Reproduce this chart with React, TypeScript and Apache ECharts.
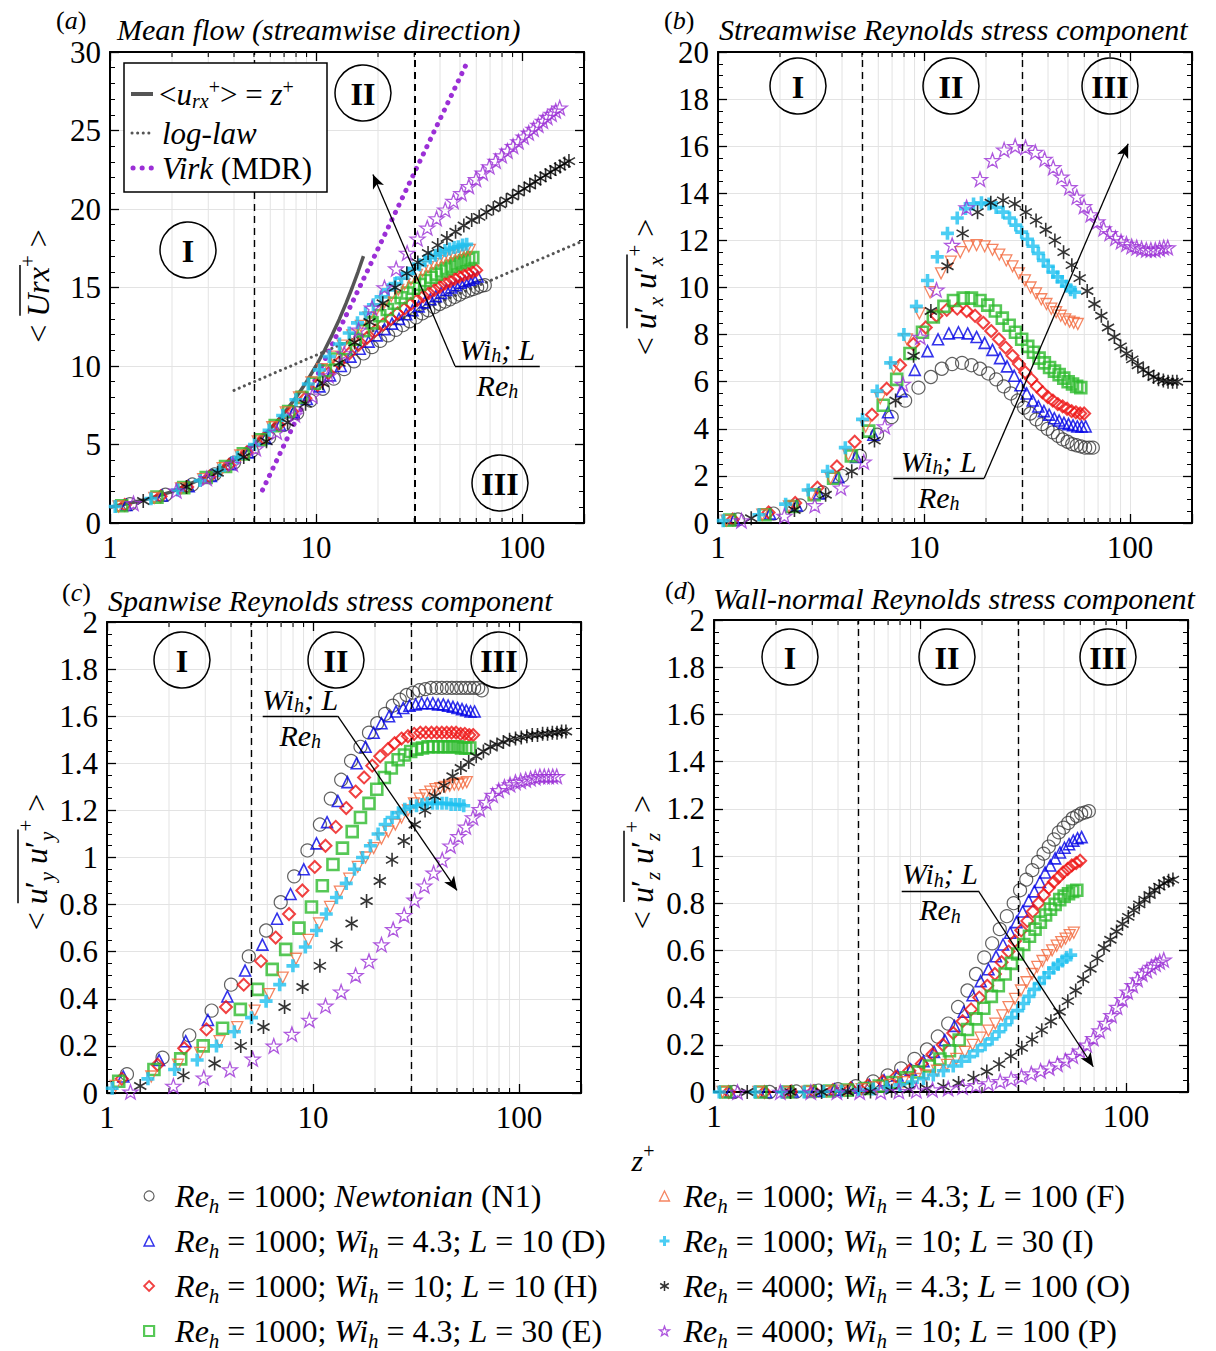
import React, { useEffect, useRef } from 'react';
import * as echarts from 'echarts';

const FONT = '"Liberation Serif", "Times New Roman", Times, serif';

// ---------- wall-normal grids (z+) of each case ----------
const N1_Z = [1.25,1.86,2.51,3.22,4.0,4.88,5.92,6.97,8.1,9.4,10.8,12.2,13.7,15.3,17.0,18.7,20.5,22.4,24.4,26.4,28.5,30.6,32.8,35.1,37.4,39.8,42.2,44.7,47.2,49.8,52.4,55.1,57.8,60.6,63.4,66.0];
const D_Z = [1.2,1.79,2.41,3.09,3.84,4.68,5.68,6.69,7.78,9.02,10.4,11.7,13.2,14.7,16.3,18.0,19.7,21.5,23.4,25.3,27.4,29.4,31.5,33.7,35.9,38.2,40.5,42.9,45.3,47.8,50.3,52.9,55.5,58.2,60.9];
const H_Z = [1.18,1.76,2.37,3.04,3.78,4.61,5.59,6.59,7.65,8.88,10.2,11.5,12.9,14.5,16.1,17.7,19.4,21.2,23.1,24.9,26.9,28.9,31.0,33.2,35.3,37.6,39.9,42.2,44.6,47.1,49.5,52.1,54.6,57.3,59.9];
const E_Z = [1.14,1.69,2.28,2.93,3.64,4.44,5.39,6.34,7.37,8.55,9.83,11.1,12.5,13.9,15.5,17.0,18.7,20.4,22.2,24.0,25.9,27.8,29.8,31.9,34.0,36.2,38.4,40.7,43.0,45.3,47.7,50.1,52.6,55.1,57.7];
const F_Z = [1.1,1.64,2.21,2.83,3.52,4.29,5.21,6.13,7.13,8.27,9.5,10.7,12.1,13.5,15.0,16.5,18.0,19.7,21.5,23.2,25.1,26.9,28.9,30.9,32.9,35.0,37.1,39.3,41.5,43.8,46.1,48.5,50.9,53.3,55.8];
const I_Z = [1.06,1.58,2.13,2.74,3.4,4.15,5.03,5.92,6.89,7.99,9.18,10.4,11.6,13.0,14.5,15.9,17.4,19.0,20.7,22.4,24.2,26.0,27.9,29.8,31.8,33.8,35.9,38.0,40.1,42.3,44.5,46.8,49.1,51.5,53.9];
const O_Z = [1.45,2.35,3.33,4.46,5.75,7.28,8.9,10.8,13.0,15.4,18.2,21.1,24.2,27.6,31.2,35.0,39.0,43.2,47.6,52.2,57.0,62.0,67.2,72.6,78.2,84.0,90.0,96.2,102.6,109.2,116.0,123.0,130.2,137.6,145.2,153.0,161.0,169.0];
const P_Z = [1.3,2.1,2.95,3.95,5.1,6.45,7.9,9.6,11.5,13.7,16.1,18.7,21.5,24.5,27.7,31.1,34.7,38.5,42.4,46.5,50.8,55.2,59.8,64.5,69.4,74.5,79.7,85.0,90.5,96.1,101.9,107.8,113.8,120.0,126.3,132.7,139.2,145.8,152.5];

// ---------- (a) mean streamwise velocity <Urx+> ----------
const N1_U = [1.2,1.8,2.45,3.1,3.85,4.6,5.45,6.25,7.0,7.8,8.55,9.2,9.8,10.3,10.8,11.2,11.6,11.95,12.3,12.6,12.85,13.1,13.35,13.55,13.75,13.95,14.1,14.25,14.4,14.55,14.7,14.8,14.9,15.0,15.1,15.15];
const D_U = [1.15,1.75,2.35,3.0,3.75,4.5,5.4,6.25,7.05,7.9,8.7,9.4,10.0,10.6,11.1,11.55,11.95,12.35,12.7,13.0,13.3,13.55,13.8,14.05,14.25,14.45,14.65,14.85,15.0,15.15,15.3,15.4,15.5,15.6,15.7];
const H_U = [1.15,1.7,2.3,2.95,3.7,4.5,5.4,6.25,7.1,7.95,8.8,9.55,10.2,10.8,11.35,11.8,12.25,12.65,13.0,13.35,13.65,13.95,14.2,14.45,14.65,14.85,15.05,15.25,15.4,15.55,15.7,15.8,15.9,16.0,16.1];
const E_U = [1.1,1.65,2.25,2.9,3.6,4.4,5.3,6.2,7.1,8.0,8.9,9.7,10.45,11.1,11.7,12.25,12.75,13.2,13.6,14.0,14.35,14.65,14.95,15.2,15.45,15.65,15.85,16.05,16.2,16.35,16.5,16.6,16.7,16.8,16.9];
const F_U = [1.05,1.6,2.2,2.8,3.5,4.3,5.2,6.1,7.05,8.0,8.95,9.8,10.6,11.3,11.95,12.55,13.1,13.6,14.05,14.45,14.85,15.2,15.5,15.8,16.05,16.3,16.5,16.7,16.85,17.0,17.1,17.2,17.3,17.35,17.4];
const I_U = [1.05,1.55,2.1,2.7,3.35,4.15,5.0,5.9,6.85,7.85,8.85,9.75,10.6,11.4,12.1,12.75,13.35,13.9,14.4,14.85,15.25,15.6,15.9,16.2,16.45,16.7,16.9,17.05,17.2,17.35,17.45,17.55,17.6,17.7,17.75];
const O_U = [1.4,2.3,3.2,4.2,5.2,6.4,7.6,8.9,10.2,11.5,12.8,14.0,15.0,15.9,16.6,17.2,17.7,18.15,18.55,18.95,19.3,19.5,19.8,20.05,20.3,20.55,20.8,21.05,21.3,21.5,21.75,21.95,22.15,22.35,22.55,22.7,22.9,23.05];
const P_U = [1.25,2.05,2.85,3.75,4.75,5.8,6.9,8.1,9.4,10.8,12.3,13.7,15.0,16.2,17.2,18.1,18.8,19.4,19.95,20.5,21.0,21.45,21.9,22.3,22.7,23.05,23.4,23.7,24.0,24.3,24.6,24.85,25.1,25.35,25.6,25.85,26.05,26.25,26.45];

// ---------- (b) streamwise Reynolds stress ----------
const N1_XX = [0.15,0.4,0.75,1.3,2.0,2.85,3.75,4.5,5.2,5.75,6.2,6.55,6.75,6.8,6.7,6.55,6.35,6.1,5.8,5.5,5.2,4.9,4.65,4.4,4.2,4.0,3.85,3.7,3.55,3.45,3.35,3.3,3.25,3.2,3.2,3.2];
const D_XX = [0.15,0.4,0.75,1.25,1.95,2.8,3.75,4.7,5.6,6.5,7.3,7.8,8.05,8.1,8.05,7.9,7.65,7.35,7.0,6.65,6.25,5.85,5.5,5.2,4.95,4.75,4.6,4.45,4.35,4.25,4.2,4.15,4.1,4.1,4.1];
const H_XX = [0.15,0.45,0.85,1.5,2.4,3.45,4.6,5.7,6.7,7.6,8.3,8.8,9.05,9.1,9.0,8.8,8.5,8.15,7.8,7.45,7.1,6.75,6.4,6.1,5.8,5.55,5.35,5.2,5.05,4.95,4.85,4.75,4.7,4.65,4.65];
const E_XX = [0.12,0.35,0.7,1.2,1.9,2.85,3.9,5.0,6.1,7.2,8.1,8.75,9.2,9.45,9.55,9.55,9.45,9.25,9.0,8.7,8.4,8.1,7.8,7.5,7.25,7.0,6.8,6.6,6.45,6.3,6.15,6.0,5.9,5.8,5.75];
const F_XX = [0.1,0.35,0.7,1.2,1.9,2.9,4.1,5.3,6.6,7.8,8.9,9.8,10.6,11.1,11.5,11.75,11.8,11.75,11.6,11.4,11.15,10.9,10.6,10.3,10.0,9.75,9.5,9.3,9.1,8.95,8.8,8.65,8.55,8.5,8.45];
const I_XX = [0.1,0.35,0.8,1.4,2.2,3.2,4.4,5.6,6.8,8.0,9.2,10.3,11.3,12.3,12.95,13.35,13.55,13.6,13.55,13.4,13.2,12.95,12.65,12.35,12.05,11.75,11.45,11.15,10.9,10.65,10.45,10.25,10.05,9.9,9.8];
const O_XX = [0.2,0.55,1.2,2.2,3.5,5.2,7.1,9.0,10.9,12.3,13.2,13.6,13.7,13.55,13.2,12.85,12.45,12.0,11.5,10.95,10.4,9.85,9.3,8.8,8.3,7.9,7.5,7.2,6.95,6.7,6.5,6.35,6.2,6.1,6.05,6.0,6.0,6.0];
const P_XX = [0.1,0.3,0.75,1.5,2.6,4.1,5.9,7.9,9.9,11.8,13.4,14.6,15.4,15.85,16.0,15.95,15.75,15.45,15.1,14.7,14.25,13.85,13.45,13.1,12.8,12.5,12.3,12.1,11.95,11.85,11.75,11.7,11.65,11.6,11.6,11.6,11.65,11.7,11.7];

// ---------- (c) spanwise Reynolds stress ----------
const N1_YY = [0.08,0.15,0.245,0.35,0.46,0.58,0.69,0.81,0.92,1.03,1.14,1.25,1.33,1.41,1.47,1.53,1.57,1.61,1.645,1.67,1.69,1.70,1.71,1.715,1.72,1.72,1.72,1.72,1.72,1.72,1.72,1.72,1.72,1.72,1.72,1.71];
const D_YY = [0.07,0.14,0.22,0.31,0.41,0.52,0.63,0.74,0.845,0.95,1.06,1.15,1.24,1.32,1.4,1.47,1.53,1.57,1.6,1.62,1.635,1.645,1.65,1.655,1.655,1.655,1.65,1.65,1.645,1.64,1.635,1.63,1.625,1.62,1.62];
const H_YY = [0.06,0.12,0.19,0.27,0.365,0.46,0.56,0.66,0.76,0.86,0.96,1.05,1.13,1.21,1.28,1.34,1.39,1.43,1.46,1.485,1.505,1.515,1.525,1.53,1.53,1.53,1.53,1.53,1.53,1.53,1.53,1.525,1.525,1.52,1.52];
const E_YY = [0.05,0.1,0.145,0.2,0.275,0.355,0.44,0.525,0.61,0.7,0.79,0.88,0.97,1.04,1.11,1.17,1.23,1.29,1.34,1.38,1.415,1.435,1.45,1.46,1.465,1.47,1.47,1.47,1.47,1.47,1.47,1.47,1.465,1.465,1.465];
const F_YY = [0.03,0.07,0.12,0.17,0.22,0.28,0.35,0.42,0.49,0.57,0.65,0.72,0.79,0.855,0.91,0.96,1.0,1.04,1.08,1.11,1.14,1.17,1.2,1.23,1.25,1.265,1.28,1.29,1.295,1.3,1.305,1.31,1.31,1.315,1.32];
const I_YY = [0.02,0.06,0.1,0.14,0.2,0.26,0.32,0.39,0.46,0.54,0.62,0.69,0.76,0.83,0.89,0.95,1.0,1.05,1.1,1.14,1.17,1.19,1.205,1.215,1.22,1.225,1.23,1.23,1.23,1.23,1.23,1.225,1.225,1.225,1.22];
const O_YY = [0.03,0.075,0.125,0.2,0.28,0.365,0.45,0.54,0.63,0.72,0.815,0.9,0.99,1.07,1.14,1.2,1.26,1.305,1.345,1.38,1.405,1.43,1.45,1.47,1.48,1.49,1.5,1.505,1.51,1.515,1.52,1.52,1.525,1.525,1.53,1.53,1.535,1.535];
const P_YY = [0.005,0.03,0.065,0.1,0.145,0.2,0.25,0.31,0.37,0.43,0.5,0.56,0.63,0.695,0.755,0.82,0.88,0.935,0.99,1.05,1.09,1.13,1.17,1.205,1.235,1.265,1.285,1.3,1.31,1.32,1.325,1.33,1.335,1.34,1.345,1.345,1.345,1.345,1.345];

// ---------- (d) wall-normal Reynolds stress ----------
const N1_ZZ = [0,0,0.002,0.006,0.012,0.025,0.045,0.07,0.1,0.14,0.18,0.235,0.29,0.36,0.43,0.5,0.57,0.63,0.69,0.745,0.8,0.855,0.9,0.94,0.975,1.01,1.04,1.07,1.1,1.12,1.14,1.16,1.17,1.18,1.185,1.19];
const D_ZZ = [0,0,0.002,0.005,0.01,0.018,0.03,0.05,0.07,0.095,0.13,0.17,0.22,0.28,0.34,0.41,0.47,0.52,0.575,0.625,0.675,0.72,0.765,0.81,0.85,0.89,0.93,0.96,0.99,1.015,1.035,1.05,1.065,1.075,1.08];
const H_ZZ = [0,0,0.002,0.004,0.008,0.015,0.028,0.045,0.065,0.09,0.12,0.16,0.2,0.25,0.3,0.35,0.4,0.45,0.5,0.55,0.595,0.64,0.685,0.725,0.765,0.8,0.835,0.865,0.89,0.91,0.93,0.945,0.96,0.97,0.98];
const E_ZZ = [0,0,0,0.002,0.004,0.008,0.015,0.025,0.04,0.06,0.085,0.11,0.14,0.175,0.22,0.265,0.31,0.355,0.405,0.45,0.5,0.545,0.585,0.625,0.66,0.69,0.72,0.75,0.775,0.795,0.815,0.83,0.84,0.85,0.855];
const F_ZZ = [0,0,0,0.001,0.003,0.006,0.012,0.02,0.03,0.042,0.055,0.07,0.09,0.115,0.14,0.17,0.2,0.23,0.26,0.29,0.325,0.36,0.395,0.43,0.465,0.5,0.53,0.555,0.58,0.6,0.62,0.635,0.65,0.665,0.675];
const I_ZZ = [0,0,0,0,0.002,0.004,0.008,0.013,0.02,0.03,0.042,0.056,0.072,0.09,0.11,0.13,0.15,0.175,0.2,0.225,0.255,0.285,0.315,0.345,0.375,0.405,0.435,0.46,0.485,0.505,0.525,0.54,0.555,0.57,0.58];
const O_ZZ = [0,0,0,0,0.002,0.005,0.01,0.015,0.024,0.038,0.06,0.087,0.118,0.152,0.187,0.222,0.262,0.3,0.34,0.385,0.43,0.478,0.522,0.566,0.61,0.645,0.68,0.712,0.742,0.77,0.795,0.815,0.835,0.855,0.87,0.885,0.895,0.9];
const P_ZZ = [0,0,0,0,0,0.001,0.003,0.006,0.01,0.015,0.021,0.028,0.036,0.045,0.055,0.066,0.078,0.09,0.103,0.118,0.133,0.152,0.175,0.2,0.228,0.26,0.292,0.325,0.36,0.393,0.425,0.452,0.477,0.5,0.515,0.53,0.542,0.552,0.56];

// ---------- reference laws in panel (a) ----------
const VISC_Z = [1,1.5,2,3,4,5,6,7,8,9,10,11,12,13,14,15,16,17];
const VISC_U = [1,1.5,2,3,4,5,6,7,8,9,10,11,12,13,14,15,16,17];
const LOG_Z = [4, 200];
const LOG_U = [8.45, 18.0];
const VIRK_Z = [5.5, 54];
const VIRK_U = [2.1, 29.3];

// ---------- cases / legend ----------
const CASE_NAMES = ['N1', 'D', 'H', 'E', 'F', 'I', 'O', 'P'];
const CASE_RE = ['1000', '1000', '1000', '1000', '1000', '1000', '4000', '4000'];
const CASE_WI = ['', '4.3', '10', '4.3', '4.3', '10', '4.3', '10'];
const CASE_L = ['', '10', '10', '30', '100', '30', '100', '100'];
const CASE_Z = [N1_Z, D_Z, H_Z, E_Z, F_Z, I_Z, O_Z, P_Z];
const CASE_VALUES = [
  [N1_U, N1_XX, N1_YY, N1_ZZ],
  [D_U, D_XX, D_YY, D_ZZ],
  [H_U, H_XX, H_YY, H_ZZ],
  [E_U, E_XX, E_YY, E_ZZ],
  [F_U, F_XX, F_YY, F_ZZ],
  [I_U, I_XX, I_YY, I_ZZ],
  [O_U, O_XX, O_YY, O_ZZ],
  [P_U, P_XX, P_YY, P_ZZ],
];

// ---------- panels ----------
const PANEL_TAGS = ['a', 'b', 'c', 'd'];
const PANEL_TITLES = [
  'Mean flow (streamwise direction)',
  'Streamwise Reynolds stress component',
  'Spanwise Reynolds stress component',
  'Wall-normal Reynolds stress component',
];
const Y_MAX = [30, 20, 2, 2];
const Y_INTERVAL = [5, 2, 0.2, 0.2];
const Y_MINOR = [5, 4, 4, 4];
const X_MIN = 1;
const X_MAX = 200;
const X_MINOR = [2, 3, 4, 5, 6, 7, 8, 9, 20, 30, 40, 50, 60, 70, 80, 90];
const REGION_BOUNDS = [5, 30];
const ROMAN = ['I', 'II', 'III'];

// annotation "Wi_h; L / Re_h" and arrows (data coordinates)
const ANN_CORNER_X = [47.3, 19.6, 13.2, 19.2];
const ANN_CORNER_Y = [10, 1.9, 1.6, 0.852];
const ANN_END_X = [122, 7.1, 5.7, 8.15];
const ARROW_HEAD_X = [18.9, 98, 50, 69.4];
const ARROW_HEAD_Y = [22.2, 16.1, 0.86, 0.107];

// ---------- layout (pixels) ----------
const GRIDS = [
  { left: 110, top: 52, width: 474, height: 471 },
  { left: 718, top: 52, width: 474, height: 471 },
  { left: 107, top: 622, width: 474, height: 471 },
  { left: 714, top: 620, width: 474, height: 472 },
];
const TITLE_POS = [[117, 29], [719, 29], [108, 600], [713, 598]];
const TAG_POS = [[56, 20], [664, 20], [62, 592], [665, 590]];
const REGION_POS = [
  [[188, 250], [363, 93], [500, 483]],
  [[798, 86], [951, 86], [1110, 86]],
  [[182, 660], [336, 660], [499, 660]],
  [[790, 657], [947, 657], [1108, 657]],
];

const STAR = 'path://M0,-1L0.235,-0.324L0.951,-0.309L0.38,0.124L0.588,0.809L0,0.4L-0.588,0.809L-0.38,0.124L-0.951,-0.309L-0.235,-0.324Z';
const ASTER = 'path://M0,-1L0,1M-0.866,-0.5L0.866,0.5M-0.866,0.5L0.866,-0.5';
const PLUS = 'path://M-1,0L1,0M0,-1L0,1';

const STYLE = [
  { color: '#3a3a3a', symbol: 'circle', size: 13, bw: 1.2, rot: 0 },
  { color: '#0000e6', symbol: 'triangle', size: 11, bw: 1.6, rot: 0 },
  { color: '#ee1111', symbol: 'diamond', size: 12, bw: 2, rot: 0 },
  { color: '#2dba2d', symbol: 'rect', size: 11, bw: 2.6, rot: 0 },
  { color: '#f2673a', symbol: 'triangle', size: 11, bw: 1.3, rot: 180 },
  { color: '#1ec0f0', symbol: PLUS, size: 13, bw: 3.6, rot: 0 },
  { color: '#000000', symbol: ASTER, size: 14, bw: 1.6, rot: 0 },
  { color: '#9b2fd6', symbol: STAR, size: 15, bw: 1.3, rot: 0 },
];
const LEGEND_BW = [1.2, 1.5, 1.8, 2.2, 1.3, 3, 1.5, 1.3];

const rich = (size: number, lh?: number) => {
  const L = lh ?? Math.round(size * 1.3);
  const sub = Math.round(size * 0.66);
  const base = { fontFamily: FONT, color: '#000' };
  return {
    n: { ...base, fontSize: size, lineHeight: L },
    i: { ...base, fontSize: size, fontStyle: 'italic', lineHeight: L },
    b: { ...base, fontSize: size, fontWeight: 'bold', lineHeight: L },
    s: { ...base, fontSize: sub, fontStyle: 'italic', lineHeight: sub, verticalAlign: 'bottom' },
    p: { ...base, fontSize: sub, lineHeight: Math.round(L * 0.85), verticalAlign: 'top' },
  };
};

const legendText = (k: number) => {
  const head = `{i|Re}{s|h}{n| = ${CASE_RE[k]}; }`;
  if (!CASE_WI[k]) return `${head}{i|Newtonian}{n| (${CASE_NAMES[k]})}`;
  return `${head}{i|Wi}{s|h}{n| = ${CASE_WI[k]}; }{i|L}{n| = ${CASE_L[k]} (${CASE_NAMES[k]})}`;
};

const fmtLog = (v: number) => {
  const l = Math.log10(v);
  return Math.abs(l - Math.round(l)) < 1e-6 ? String(Math.round(Math.pow(10, Math.round(l)))) : '';
};

let measureCtx: CanvasRenderingContext2D | null = null;
const textWidth = (t: string, size: number, italic: boolean) => {
  if (!measureCtx) measureCtx = document.createElement('canvas').getContext('2d');
  measureCtx!.font = `${italic ? 'italic' : 'normal'} normal ${size}px ${FONT}`;
  return measureCtx!.measureText(t).width;
};

function buildOption() {
  const grid: any[] = [];
  const xAxis: any[] = [];
  const yAxis: any[] = [];
  const series: any[] = [];
  const axisLine = { show: true, onZero: false, lineStyle: { color: '#000', width: 2 } };
  const tick = { show: true, inside: true, length: 9, lineStyle: { color: '#000', width: 1.3 } };
  const splitLine = { show: true, lineStyle: { color: '#e3e3e3', width: 1 } };
  const label = { fontFamily: FONT, fontSize: 31, color: '#000', margin: 9 };

  GRIDS.forEach((gr, g) => {
    grid.push({ ...gr, show: false, containLabel: false });
    const xBase = { type: 'log', logBase: 10, min: X_MIN, max: X_MAX, gridIndex: g, axisLine, axisTick: tick };
    xAxis.push({ ...xBase, position: 'bottom', axisLabel: { ...label, formatter: fmtLog }, splitLine });
    xAxis.push({ ...xBase, position: 'top', axisLabel: { show: false }, splitLine: { show: false } });
    const yBase = {
      type: 'value', min: 0, max: Y_MAX[g], interval: Y_INTERVAL[g], gridIndex: g, axisLine, axisTick: tick,
      minorTick: { show: true, splitNumber: Y_MINOR[g], length: 5, lineStyle: { color: '#000', width: 1 } },
    };
    yAxis.push({ ...yBase, position: 'left', axisLabel: label, splitLine });
    yAxis.push({ ...yBase, position: 'right', axisLabel: { show: false }, splitLine: { show: false } });

    const ymax = Y_MAX[g];
    series.push({
      type: 'custom', name: 'minor-' + g, xAxisIndex: 2 * g, yAxisIndex: 2 * g, silent: true, z: 1,
      data: X_MINOR.map((v) => [v, 0]),
      renderItem: (_p: any, api: any) => {
        const x = api.value(0);
        const b = api.coord([x, 0]);
        const t = api.coord([x, ymax]);
        return {
          type: 'group',
          children: [
            { type: 'line', shape: { x1: b[0], y1: b[1], x2: t[0], y2: t[1] }, style: { stroke: '#e3e3e3', lineWidth: 1 } },
            { type: 'line', shape: { x1: b[0], y1: b[1], x2: b[0], y2: b[1] - 5 }, style: { stroke: '#000', lineWidth: 1.1 } },
            { type: 'line', shape: { x1: t[0], y1: t[1], x2: t[0], y2: t[1] + 5 }, style: { stroke: '#000', lineWidth: 1.1 } },
          ],
        };
      },
    });

    if (g === 0) {
      series.push({
        type: 'line', name: 'visc', xAxisIndex: 0, yAxisIndex: 0, symbol: 'none', z: 2,
        data: VISC_Z.map((z, k) => [z, VISC_U[k]]),
        lineStyle: { color: '#555', width: 3.5 },
      });
      series.push({
        type: 'line', name: 'loglaw', xAxisIndex: 0, yAxisIndex: 0, symbol: 'none', z: 2,
        data: LOG_Z.map((z, k) => [z, LOG_U[k]]),
        lineStyle: { color: '#555', width: 3, type: [0.1, 5.5], cap: 'round' },
      });
      series.push({
        type: 'line', name: 'virk', xAxisIndex: 0, yAxisIndex: 0, symbol: 'none', z: 2,
        data: VIRK_Z.map((z, k) => [z, VIRK_U[k]]),
        lineStyle: { color: '#9b2fd6', width: 5, type: [0.1, 8], cap: 'round' },
      });
    }

    const annStyle = { color: '#000', width: 1.3, type: 'solid' };
    const markLine = {
      silent: true,
      symbol: ['none', 'none'],
      label: { show: false },
      emphasis: { disabled: true },
      data: [
        ...REGION_BOUNDS.map((v) => ({ xAxis: v, lineStyle: { color: '#000', width: g === 0 && v === 30 ? 2 : 1.4, type: [7, 5] } })),
        [
          { coord: [ANN_END_X[g], ANN_CORNER_Y[g]], symbol: 'none', lineStyle: annStyle },
          { coord: [ANN_CORNER_X[g], ANN_CORNER_Y[g]], symbol: 'none', lineStyle: annStyle },
        ],
        [
          { coord: [ANN_CORNER_X[g], ANN_CORNER_Y[g]], symbol: 'none', lineStyle: annStyle },
          { coord: [ARROW_HEAD_X[g], ARROW_HEAD_Y[g]], symbol: 'arrow', symbolSize: [9, 14], lineStyle: annStyle },
        ],
      ],
    };

    CASE_NAMES.forEach((name, k) => {
      const st = STYLE[k];
      const vals = CASE_VALUES[k][g];
      series.push({
        type: 'scatter', name, xAxisIndex: 2 * g, yAxisIndex: 2 * g, z: 3,
        data: CASE_Z[k].map((z, j) => [z, vals[j]]),
        symbol: st.symbol, symbolSize: st.size, symbolRotate: st.rot, symbolKeepAspect: true,
        itemStyle: { color: 'rgba(0,0,0,0)', borderColor: st.color, borderWidth: st.bw },
        emphasis: { disabled: true },
        ...(k === 0 ? { markLine } : {}),
      });
    });
  });

  const legendRich = rich(32, 40);
  const legendBase = {
    orient: 'vertical', itemGap: 9, itemWidth: 10, itemHeight: 10, padding: 0, selectedMode: false,
    formatter: (n: string) => legendText(CASE_NAMES.indexOf(n)),
  };
  const legendData = (ks: number[]) => ks.map((k) => ({ name: CASE_NAMES[k], itemStyle: { borderWidth: LEGEND_BW[k] } }));

  return {
    animation: false,
    backgroundColor: '#fff',
    grid, xAxis, yAxis, series,
    legend: [
      {
        ...legendBase, left: 143, top: 1180, data: legendData([0, 1, 2, 3]),
        textStyle: { fontFamily: FONT, fontSize: 32, color: '#000', rich: legendRich, padding: [0, 0, 0, 16] },
      },
      {
        ...legendBase, left: 658, top: 1180, data: legendData([4, 5, 6, 7]),
        textStyle: { fontFamily: FONT, fontSize: 32, color: '#000', rich: legendRich, padding: [0, 0, 0, 9] },
      },
    ],
  };
}

function textEl(x: number, y: number, text: string, r: any, align = 'left', extra: any = {}) {
  return {
    type: 'text', x, y, z: 50,
    style: { text, rich: r, align, textAlign: align, verticalAlign: 'middle', textVerticalAlign: 'middle', fill: '#000', ...extra },
  };
}

function yLabel(cx: number, cy: number, toks: [string, string][], over: [number, number]) {
  const size = 32;
  const sub = Math.round(size * 0.66);
  const w = toks.map(([t, s]) => textWidth(t, s === 's' || s === 'p' ? sub : size, s === 'i' || s === 's'));
  const W = w.reduce((a, b) => a + b, 0);
  let x0 = -W / 2;
  for (let k = 0; k < over[0]; k++) x0 += w[k];
  let x1 = -W / 2;
  for (let k = 0; k <= over[1]; k++) x1 += w[k];
  const text = toks.map(([t, s]) => `{${s}|${t}}`).join('');
  return {
    type: 'group', x: cx, y: cy, rotation: Math.PI / 2, z: 50,
    children: [
      { type: 'text', x: 0, y: 0, style: { text, rich: rich(size, 42), align: 'center', textAlign: 'center', verticalAlign: 'middle', textVerticalAlign: 'middle' } },
      { type: 'line', shape: { x1: x0 + 1, y1: -18, x2: x1 + 2, y2: -18 }, style: { stroke: '#000', lineWidth: 1.5 } },
    ],
  };
}

function buildGraphics(chart: any) {
  const els: any[] = [];
  const r26 = rich(26, 26);
  const r30 = rich(30, 32);
  // titles
  PANEL_TAGS.forEach((t, g) => {
    els.push(textEl(TAG_POS[g][0], TAG_POS[g][1], `{n|(}{i|${t}}{n|)}`, r26));
    els.push(textEl(TITLE_POS[g][0], TITLE_POS[g][1], `{i|${PANEL_TITLES[g]}}`, r30));
  });
  // region markers
  REGION_POS.forEach((row) => {
    row.forEach(([x, y], k) => {
      els.push({ type: 'circle', shape: { cx: x, cy: y, r: 28 }, z: 40, style: { fill: 'rgba(0,0,0,0)', stroke: '#000', lineWidth: 1.5 } });
      els.push(textEl(x, y + 1, `{b|${ROMAN[k]}}`, rich(32, 34), 'center'));
    });
  });
  // y labels
  els.push(yLabel(38, 286, [['< ', 'n'], ['Urx', 'i'], ['+', 'p'], [' >', 'n']], [1, 1]));
  els.push(yLabel(645, 287, [['< ', 'n'], ['u', 'i'], ['′', 'n'], ['x', 's'], [' u', 'i'], ['′', 'n'], ['x', 's'], ['+', 'p'], [' >', 'n']], [1, 6]));
  els.push(yLabel(36, 862, [['< ', 'n'], ['u', 'i'], ['′', 'n'], ['y', 's'], [' u', 'i'], ['′', 'n'], ['y', 's'], ['+', 'p'], [' >', 'n']], [1, 6]));
  els.push(yLabel(642, 862, [['< ', 'n'], ['u', 'i'], ['′', 'n'], ['z', 's'], [' u', 'i'], ['′', 'n'], ['z', 's'], ['+', 'p'], [' >', 'n']], [1, 6]));
  // x label
  els.push(textEl(643, 1160, '{i|z}{p|+}', rich(30), 'center'));
  // annotation texts
  PANEL_TAGS.forEach((_t, g) => {
    const a = chart.convertToPixel({ xAxisIndex: 2 * g, yAxisIndex: 2 * g }, [ANN_CORNER_X[g], ANN_CORNER_Y[g]]);
    const b = chart.convertToPixel({ xAxisIndex: 2 * g, yAxisIndex: 2 * g }, [ANN_END_X[g], ANN_CORNER_Y[g]]);
    const cx = (a[0] + b[0]) / 2;
    els.push(textEl(cx, a[1] - 17, '{i|Wi}{s|h}{i|; L}', r30, 'center'));
    els.push(textEl(cx, a[1] + 19, '{i|Re}{s|h}', r30, 'center'));
  });
  // legend box of panel (a)
  els.push({ type: 'rect', shape: { x: 124, y: 63, width: 203, height: 129 }, z: 45, style: { fill: '#fff', stroke: '#000', lineWidth: 1.5 } });
  els.push({ type: 'line', shape: { x1: 131, y1: 94, x2: 153, y2: 94 }, z: 46, style: { stroke: '#555', lineWidth: 4 } });
  els.push({ type: 'line', shape: { x1: 132, y1: 133, x2: 154, y2: 133 }, z: 46, style: { stroke: '#555', lineWidth: 3, lineDash: [0.1, 5.5], lineCap: 'round' } });
  els.push({ type: 'line', shape: { x1: 133, y1: 168, x2: 154, y2: 168 }, z: 46, style: { stroke: '#9b2fd6', lineWidth: 5, lineDash: [0.1, 9], lineCap: 'round' } });
  const r31 = rich(31, 34);
  els.push(textEl(159, 94, '{n|<}{i|u}{s|rx}{p|+}{n|> = }{i|z}{p|+}', r31));
  els.push(textEl(162, 133, '{i|log-law}', r31));
  els.push(textEl(162, 168, '{i|Virk}{n| (MDR)}', r31));
  return els;
}

export default function App() {
  const ref = useRef<HTMLDivElement>(null);
  useEffect(() => {
    const chart = echarts.init(ref.current as HTMLDivElement, undefined, { renderer: 'svg' });
    chart.setOption(buildOption() as any);
    chart.setOption({ graphic: { elements: buildGraphics(chart) } } as any);
    return () => chart.dispose();
  }, []);
  return (
    <div
      ref={ref}
      style={{ position: 'absolute', left: 0, top: 0, width: 1216, height: 1351, background: '#fff' }}
    />
  );
}
